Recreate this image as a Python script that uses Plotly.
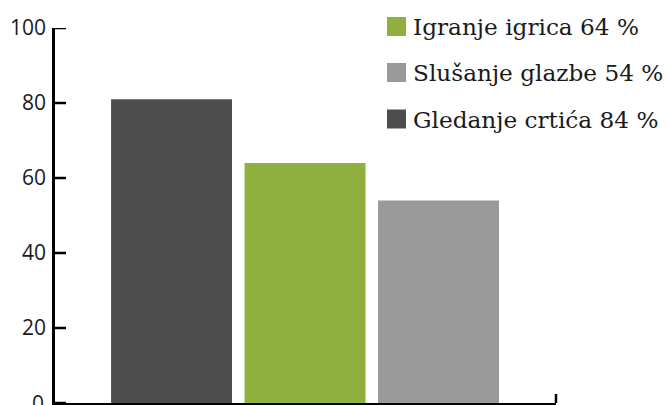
import plotly.graph_objects as go

# Data
categories = ["Gledanje crtića", "Igranje igrica", "Slušanje glazbe"]
values = [81, 64, 54]
colors = ["#4d4d4d", "#8fb03e", "#9a9a9a"]

legend_labels = ["Igranje igrica", "Slušanje glazbe", "Gledanje crtića"]
legend_pct = [64, 54, 84]
legend_colors = ["#8fb03e", "#9a9a9a", "#4d4d4d"]

y_ticks = [0, 20, 40, 60, 80, 100]

fig = go.Figure()
fig.add_trace(go.Bar(
    x=categories, y=values, marker=dict(color=colors, line=dict(width=0)),
    showlegend=False, width=0.906,
))

W, H = 670, 405
ml, mr, mt, mb = 55, 114, 28, 2
pw, ph = W - ml - mr, H - mt - mb

shapes = []
annotations = []
row_y = [26.5, 72.5, 119]
for lab, pct, col, yc in zip(legend_labels, legend_pct, legend_colors, row_y):
    x0 = (387 - ml) / pw
    x1 = (406 - ml) / pw
    y0 = 1 - ((yc - 9.5) - mt) / ph
    y1 = 1 - ((yc + 9.5) - mt) / ph
    shapes.append(dict(type="rect", xref="paper", yref="paper", x0=x0, x1=x1,
                       y0=y1, y1=y0, fillcolor=col, line=dict(width=0), layer="above"))
    annotations.append(dict(xref="paper", yref="paper", x=(411 - ml) / pw,
                            y=1 - (yc - mt) / ph, xanchor="left", yanchor="middle",
                            text=f"{lab} {pct} %", showarrow=False,
                            font=dict(family="DejaVu Serif", size=23.2, color="#1a1a1a")))

# y-axis tick marks pointing into the plot
for v in y_ticks:
    shapes.append(dict(type="line", xref="paper", yref="y", x0=0, x1=11 / pw,
                       y0=v, y1=v, line=dict(color="black", width=2.5), layer="above"))

# the "0" label sits partly below the page edge
annotations.append(dict(xref="paper", yref="y", x=0, y=y_ticks[0], xanchor="right",
                        yanchor="middle", xshift=-9, text=str(y_ticks[0]), showarrow=False,
                        font=dict(family="Open Sans", size=21, color="#1a1a1a")))

# right end tick of x axis
shapes.append(dict(type="line", xref="paper", yref="paper", x0=1, x1=1,
                   y0=0, y1=9 / ph, line=dict(color="black", width=2.5)))

fig.update_layout(
    width=W, height=H,
    margin=dict(l=ml, r=mr, t=mt, b=mb),
    plot_bgcolor="white", paper_bgcolor="white",
    shapes=shapes, annotations=annotations,
    xaxis=dict(range=[-0.873, 2.88], showticklabels=False, ticks="",
               showline=True, linecolor="black", linewidth=2.5, showgrid=False,
               zeroline=False, fixedrange=True),
    yaxis=dict(range=[0, 100], tickvals=y_ticks[1:], ticks="",
               showline=True, linecolor="black",
               linewidth=2.5, showgrid=False, zeroline=False,
               tickfont=dict(family="Open Sans", size=21, color="#1a1a1a"),
               ticklabelstandoff=2),
    bargap=0.094,
)

fig.write_html("out.html", config={"displayModeBar": False},
               post_script="document.body.style.margin='0';document.body.style.overflow='hidden';")
